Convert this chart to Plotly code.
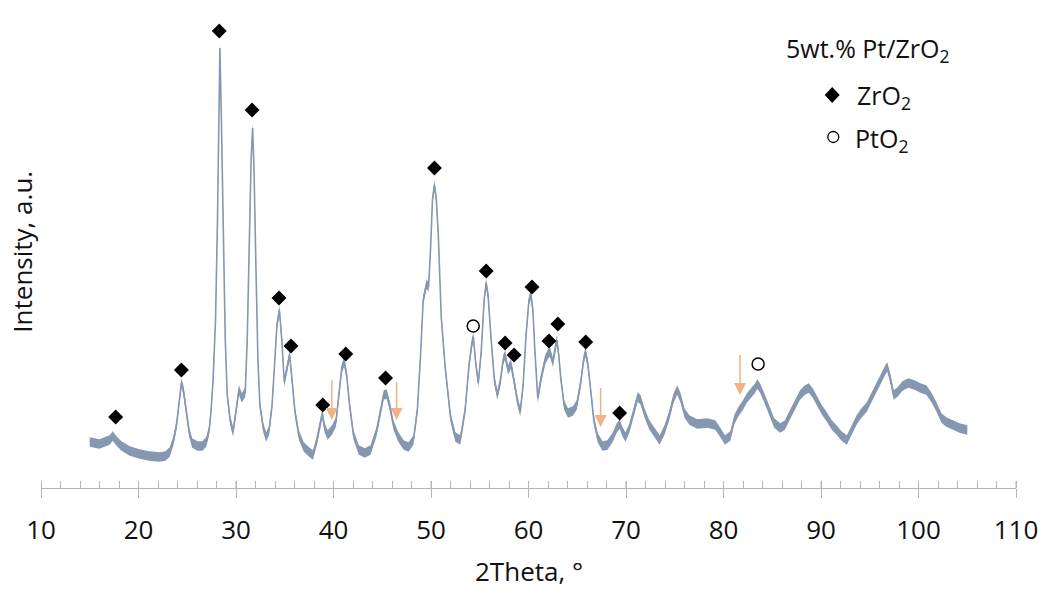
import plotly.graph_objects as go

# ---------------- data ----------------
two_theta = [
    15.0, 15.5, 16.0, 16.5, 17.05, 17.35, 17.75, 18.25, 19.1, 20.1, 21.1, 22.15, 22.75, 23.2, 23.6, 23.9,
    24.2, 24.4, 24.6, 24.9, 25.2, 25.5, 26.05, 26.55, 26.95, 27.25, 27.45, 27.65, 27.9, 28.1, 28.25, 28.35,
    28.5, 28.7, 28.9, 29.1, 29.4, 29.7, 30.0, 30.3, 30.6, 30.95, 31.15, 31.35, 31.55, 31.7, 31.85, 32.05,
    32.25, 32.45, 32.8, 33.1, 33.4, 33.7, 34.0, 34.2, 34.45, 34.7, 34.95, 35.25, 35.5, 35.75, 36.05, 36.45,
    36.95, 37.5, 37.9, 38.3, 38.6, 38.85, 39.1, 39.4, 39.85, 40.25, 40.55, 40.85, 41.1, 41.35, 41.65, 42.05,
    42.6, 43.2, 43.8, 44.4, 44.85, 45.15, 45.45, 45.75, 46.15, 46.65, 47.2, 47.7, 48.2, 48.6, 48.9, 49.2,
    49.55, 49.75, 49.95, 50.15, 50.35, 50.55, 50.75, 51.05, 51.45, 52.0, 52.5, 53.0, 53.5, 53.9, 54.2, 54.35,
    54.55, 54.85, 55.15, 55.45, 55.65, 55.85, 56.15, 56.5, 56.8, 57.1, 57.4, 57.6, 57.9, 58.2, 58.5, 58.85,
    59.15, 59.45, 59.75, 60.05, 60.25, 60.45, 60.65, 60.95, 61.3, 61.7, 62.0, 62.2, 62.5, 62.7, 62.9, 63.1,
    63.3, 63.65, 64.05, 64.55, 64.95, 65.35, 65.65, 65.85, 66.1, 66.4, 66.7, 67.1, 67.6, 68.1, 68.65, 69.05,
    69.35, 69.65, 69.95, 70.35, 70.8, 71.2, 71.5, 71.9, 72.4, 72.9, 73.45, 73.95, 74.45, 74.85, 75.25, 75.6,
    76.0, 76.5, 77.3, 78.35, 79.15, 79.65, 80.15, 80.7, 81.1, 81.5, 82.0, 82.4, 82.85, 83.25, 83.45, 83.75,
    84.15, 84.65, 85.2, 85.8, 86.3, 86.8, 87.3, 87.85, 88.35, 88.75, 89.15, 89.55, 90.1, 90.6, 91.1, 91.6,
    92.1, 92.65, 93.15, 93.65, 94.15, 94.7, 95.2, 95.7, 96.2, 96.6, 96.8, 97.15, 97.45, 97.85, 98.35, 98.95,
    99.6, 100.2, 100.8, 101.3, 101.85, 102.35, 102.85, 103.55, 104.2, 105.0,
]
intensity = [
    46, 45, 44, 46, 48, 52, 47, 42, 37, 34, 32, 31, 32, 36, 48, 63,
    90, 105, 98, 76, 56, 45, 42, 42, 46, 58, 78, 108, 168, 268, 368, 440,
    368, 248, 148, 93, 68, 56, 78, 98, 90, 96, 148, 238, 328, 360, 318, 218,
    128, 83, 60, 51, 58, 83, 128, 163, 178, 148, 106, 123, 133, 108, 76, 53,
    41, 36, 33, 48, 63, 74, 60, 53, 58, 66, 93, 120, 126, 113, 83, 53,
    38, 35, 38, 56, 78, 93, 94, 83, 63, 51, 43, 41, 48, 78, 128, 188,
    204, 201, 238, 288, 303, 288, 253, 171, 121, 71, 51, 48, 78, 123, 145, 151,
    128, 105, 136, 188, 205, 193, 151, 108, 93, 106, 128, 133, 118, 124, 108, 88,
    76, 103, 153, 188, 193, 178, 138, 90, 110, 128, 134, 136, 126, 138, 148, 133,
    111, 83, 75, 77, 83, 105, 128, 136, 123, 96, 68, 50, 42, 43, 51, 60,
    64, 56, 51, 60, 78, 91, 88, 75, 63, 56, 48, 58, 73, 89, 98, 90,
    75, 68, 64, 65, 63, 56, 48, 52, 68, 76, 83, 90, 95, 100, 104, 100,
    91, 78, 65, 60, 63, 73, 83, 93, 98, 100, 95, 88, 78, 71, 63, 58,
    52, 48, 58, 68, 75, 81, 91, 101, 111, 118, 121, 108, 93, 96, 102, 105,
    103, 100, 98, 91, 81, 70, 66, 63, 60, 58,
]

zro2_theta = [17.66, 24.4, 28.28, 31.65, 34.41, 35.64, 38.9, 41.26, 45.34, 50.35,
              55.66, 57.6, 58.52, 60.36, 62.1, 63.01, 65.87, 69.35]
zro2_mark = [71, 118, 457, 378, 190, 142, 83, 134, 110, 320,
             217, 145, 133, 201, 147, 164, 146, 75]

pto2_theta = [54.33, 83.55]
pto2_mark = [162, 124]

arrow_theta = [39.83, 46.47, 67.4, 81.7]
arrow_from = [108, 106, 100, 133]
arrow_to = [68, 68, 61, 93]

x_tick_values = [10, 20, 30, 40, 50, 60, 70, 80, 90, 100, 110]

# ---------------- styles ----------------
LINE_COLOR = "rgb(133,151,177)"
ARROW_COLOR = "#F4B183"
AXIS_COLOR = "#b4b4b4"
FONT = "Open Sans, Segoe UI, sans-serif"
TEXT_COLOR = "#111111"
BAND_HALF = 4.8

upper = [v + BAND_HALF for v in intensity]
lower = [v - BAND_HALF for v in intensity]

fig = go.Figure()
fig.add_trace(go.Scatter(x=two_theta, y=lower, mode="lines", line=dict(width=0, color=LINE_COLOR),
                         hoverinfo="skip", showlegend=False))
fig.add_trace(go.Scatter(x=two_theta, y=upper, mode="lines", line=dict(width=0, color=LINE_COLOR),
                         fill="tonexty", fillcolor=LINE_COLOR, hoverinfo="skip", showlegend=False))
fig.add_trace(go.Scatter(x=two_theta, y=intensity, mode="lines", line=dict(width=1.6, color=LINE_COLOR),
                         showlegend=False))
fig.add_trace(go.Scatter(x=zro2_theta, y=zro2_mark, mode="markers", name="ZrO2",
                         marker=dict(symbol="diamond", size=11.5, color="black"), showlegend=False))
fig.add_trace(go.Scatter(x=pto2_theta, y=pto2_mark, mode="markers", name="PtO2",
                         marker=dict(symbol="circle-open", size=12, color="black", line=dict(width=1.5)),
                         showlegend=False))

shapes = []
# orange arrows: shaft + filled triangular head
for xt, y0, y1 in zip(arrow_theta, arrow_from, arrow_to):
    shapes.append(dict(type="line", xref="x", yref="y", x0=xt, x1=xt, y0=y0, y1=y1 + 6,
                       line=dict(color=ARROW_COLOR, width=1.5)))
    shapes.append(dict(type="path", xref="x", yref="y", xsizemode="pixel", ysizemode="pixel",
                       xanchor=xt, yanchor=y1, path="M-6,12 L6,12 L0,0 Z",
                       fillcolor=ARROW_COLOR, line=dict(width=0)))

annotations = []
# axis titles
annotations.append(dict(text="2Theta, °", x=0.5, y=-0.178, xref="paper", yref="paper",
                        showarrow=False, font=dict(family=FONT, size=26, color=TEXT_COLOR),
                        xanchor="center", yanchor="middle"))
annotations.append(dict(text="Intensity, a.u.", x=-0.0195, y=0.505, xref="paper", yref="paper",
                        showarrow=False, textangle=-90, font=dict(family=FONT, size=26, color=TEXT_COLOR),
                        xanchor="center", yanchor="middle"))
# legend texts
annotations.append(dict(text="5wt.% Pt/ZrO<sub>2</sub>", x=0.848, y=0.938, xref="paper", yref="paper",
                        showarrow=False, font=dict(family=FONT, size=25, color=TEXT_COLOR),
                        xanchor="center", yanchor="middle"))
annotations.append(dict(text="ZrO<sub>2</sub>", x=0.8345, y=0.836, xref="paper", yref="paper",
                        showarrow=False, font=dict(family=FONT, size=25, color=TEXT_COLOR),
                        xanchor="left", yanchor="middle"))
annotations.append(dict(text="PtO<sub>2</sub>", x=0.8325, y=0.745, xref="paper", yref="paper",
                        showarrow=False, font=dict(family=FONT, size=25, color=TEXT_COLOR),
                        xanchor="left", yanchor="middle"))

# legend symbols
shapes.append(dict(type="path", xref="paper", yref="paper", xsizemode="pixel", ysizemode="pixel",
                   xanchor=0.8115, yanchor=0.840, path="M0,8 L7.5,0 L0,-8 L-7.5,0 Z",
                   fillcolor="black", line=dict(width=0)))
shapes.append(dict(type="circle", xref="paper", yref="paper", xsizemode="pixel", ysizemode="pixel",
                   xanchor=0.8126, yanchor=0.750, x0=-5.5, x1=5.5, y0=-5.5, y1=5.5,
                   line=dict(color="black", width=1.3)))
# upper half of the major ticks (they cross the axis)
for tv in x_tick_values:
    shapes.append(dict(type="line", xref="x", yref="paper", x0=tv, x1=tv, y0=0, y1=7 / 468,
                       line=dict(color=AXIS_COLOR, width=1)))

fig.update_layout(
    width=1050, height=589,
    margin=dict(l=41, r=30, t=20, b=101, pad=0),
    paper_bgcolor="white", plot_bgcolor="white",
    showlegend=False,
    font=dict(family=FONT, color=TEXT_COLOR),
    xaxis=dict(range=[10, 110], tickmode="array", tickvals=x_tick_values,
               showline=True, linecolor=AXIS_COLOR, linewidth=1,
               ticks="outside", ticklen=9, tickwidth=1, tickcolor=AXIS_COLOR,
               minor=dict(ticks="inside", ticklen=7, dtick=2, tick0=10, tickcolor=AXIS_COLOR, tickwidth=1),
               showgrid=False, zeroline=False,
               tickfont=dict(family=FONT, size=26, color=TEXT_COLOR), ticklabelstandoff=10),
    yaxis=dict(range=[0, 468], showline=False, showticklabels=False, ticks="",
               showgrid=False, zeroline=False),
    annotations=annotations, shapes=shapes,
)

fig.write_html("out.html")
